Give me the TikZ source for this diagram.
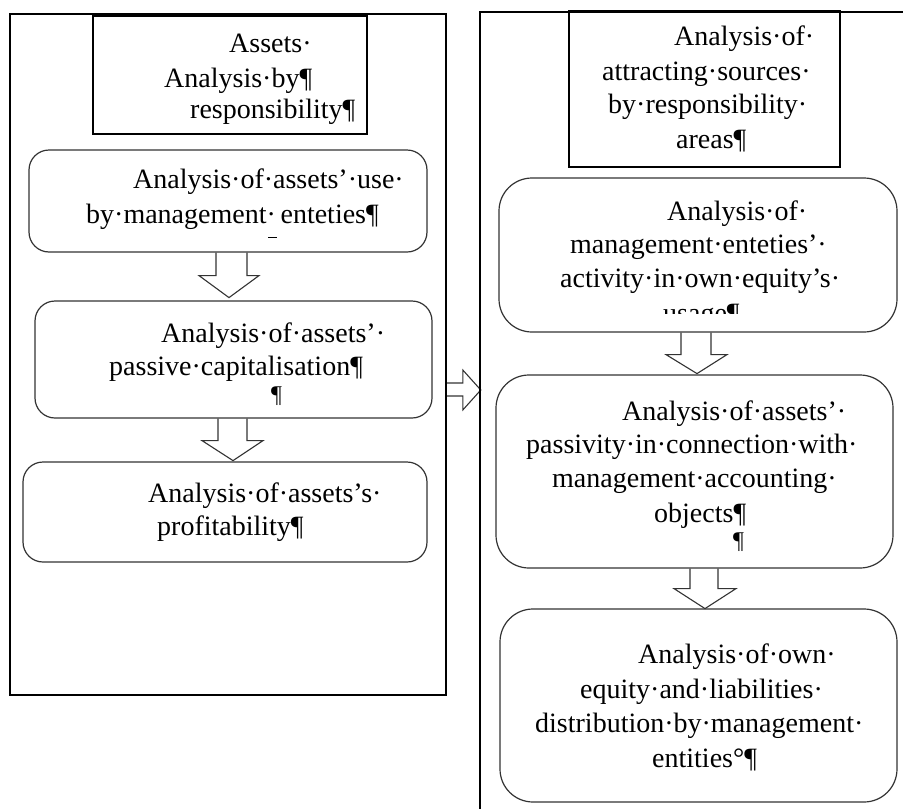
\documentclass[tikz,border=0pt]{standalone}
\usepackage{fontspec}
\setmainfont{Liberation Serif}
\usetikzlibrary{calc}
\pgfdeclarelayer{background}
\pgfsetlayers{background,main}
\newcommand{\vblk}[8]{\draw[barrow] ($(#1)+(#2,0)$) -- ($(#1)+(#2,#4)$) -- ($(#1)+(#5,#4)$) -- ($(#1)+(#7,#8)$) -- ($(#1)+(#6,#4)$) -- ($(#1)+(#3,#4)$) -- ($(#1)+(#3,0)$);}
\begin{document}
\begin{tikzpicture}[x=1pt,y=-1pt,
  txt/.style={anchor=base west,inner sep=0pt,font=\fontsize{28}{32}\selectfont},
  outerbox/.style={draw=black,line width=1.6pt,rectangle,inner sep=0pt},
  titlebox/.style={draw=black,line width=1.4pt,rectangle,inner sep=0pt},
  lbox/.style={draw=black!80,line width=1.2pt,rectangle,rounded corners=20pt,inner sep=0pt},
  rbox/.style={draw=black!80,line width=1.2pt,rectangle,rounded corners=33pt,inner sep=0pt},
  barrow/.style={draw=black!80,line width=1.1pt,fill=white,line join=miter}]
\useasboundingbox (0,0) rectangle (903,809);
% outer frames
\node[outerbox,minimum width=436pt,minimum height=681pt] (leftframe) at (228,354.5) {};
\begin{scope}
\clip (0,0) rectangle (903,809);
\node[outerbox,minimum width=440pt,minimum height=820pt] (rightframe) at (700,422) {};
\end{scope}
% left column boxes
\node[titlebox,minimum width=274pt,minimum height=118pt] (ltitle) at (230,75) {};
\node[lbox,minimum width=398pt,minimum height=102pt] (lb1) at (228,201) {};
\node[lbox,minimum width=397pt,minimum height=117pt] (lb2) at (233.5,359.5) {};
\node[lbox,minimum width=404pt,minimum height=100pt] (lb3) at (225,512) {};
% right column boxes
\node[titlebox,minimum width=271pt,minimum height=156pt] (rtitle) at (704.5,89) {};
\node[rbox,minimum width=398pt,minimum height=154pt] (rb1) at (698,255) {};
\node[rbox,minimum width=397pt,minimum height=193pt] (rb2) at (694.5,471.5) {};
\node[rbox,minimum width=397pt,minimum height=193pt] (rb3) at (698.5,705.5) {};
% block arrows
\begin{pgfonlayer}{background}
\vblk{lb1.south}{-12}{19}{23}{-29}{31}{1}{45}
\vblk{lb2.south}{-15.5}{13.5}{22}{-31.5}{29.5}{-0.5}{42}
\vblk{rb1.south}{-17}{13}{22}{-32}{29}{-1}{41}
\vblk{rb2.south}{-4.5}{23.5}{20}{-20.5}{41.5}{10.5}{40}
\draw[barrow] ($(leftframe.east)+(0,28.5)$) -- ($(leftframe.east)+(16,28.5)$) -- ($(leftframe.east)+(16,15.5)$) -- ($(leftframe.east)+(34,35.5)$) -- ($(leftframe.east)+(16,55.5)$) -- ($(leftframe.east)+(16,41.5)$) -- ($(leftframe.east)+(0,41.5)$);
\end{pgfonlayer}
% left texts
\node[txt] (lt1) at (229,52) {Assets·};
\node[txt] (lt2) at (164,87) {Analysis·by¶};
\node[txt] (lt3) at (190,118) {responsibility¶};
\node[txt] (l1a) at (133,188) {Analysis·of·assets’·use·};
\node[txt] (l1b) at (86,223) {by·management·\,enteties¶};
\draw[line width=1pt] (268,237) -- (277,237);
\node[txt] (l2a) at (161,342) {Analysis·of·assets’·};
\node[txt] (l2b) at (109,375) {passive·capitalisation¶};
\node[txt,font=\fontsize{24}{28}\selectfont] (l2c) at (271,402) {¶};
\node[txt] (l3a) at (148,502) {Analysis·of·assets’s·};
\node[txt] (l3b) at (157,535) {profitability¶};
% right texts
\node[txt] (rt1) at (674,45) {Analysis·of·};
\node[txt] (rt2) at (602,80) {attracting·sources·};
\node[txt] (rt3) at (608,113) {by·responsibility·};
\node[txt] (rt4) at (676,148) {areas¶};
\node[txt] (r1a) at (667,220) {Analysis·of·};
\node[txt] (r1b) at (570,253) {management·enteties’·};
\node[txt] (r1c) at (560,287) {activity·in·own·equity’s·};
\begin{scope}
\clip (499,178) rectangle (897,313.5);
\node[txt] (r1d) at (663,322) {usage¶};
\end{scope}
\node[txt] (r2a) at (622,420) {Analysis·of·assets’·};
\node[txt] (r2b) at (526,453) {passivity·in·connection·with·};
\node[txt] (r2c) at (552,487) {management·accounting·};
\node[txt] (r2d) at (654,522) {objects¶};
\node[txt,font=\fontsize{24}{28}\selectfont] (r2e) at (733,548) {¶};
\node[txt] (r3a) at (638,663) {Analysis·of·own·};
\node[txt] (r3b) at (580,698) {equity·and·liabilities·};
\node[txt] (r3c) at (535,732) {distribution·by·management·};
\node[txt] (r3d) at (652,767) {entities°¶};
\end{tikzpicture}
\end{document}
